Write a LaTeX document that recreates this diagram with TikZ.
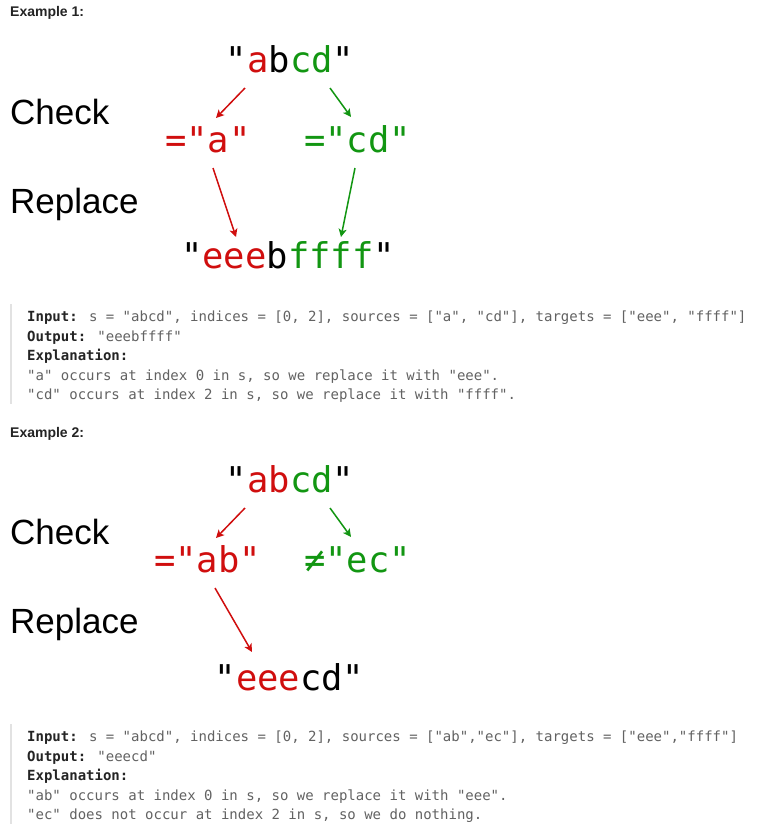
\documentclass[tikz,border=0pt]{standalone}
\usepackage{fontspec}
\setmainfont{Liberation Sans}
\newfontfamily\monofont{DejaVu Sans Mono}
\usepackage{xcolor}
\usetikzlibrary{arrows.meta,positioning}
\definecolor{rosso}{RGB}{208,14,14}
\definecolor{verde}{RGB}{18,150,18}
\definecolor{grigio}{RGB}{98,98,98}
\definecolor{scuro}{RGB}{36,36,36}
\definecolor{barra}{RGB}{226,226,226}
\newcommand{\R}[1]{\textcolor{rosso}{#1}}
\newcommand{\V}[1]{\textcolor{verde}{#1}}
\newcommand{\K}[1]{\textcolor{scuro}{\bfseries #1}}

\begin{document}
\begin{tikzpicture}[x=1pt, y=-1pt,
    titolo/.style={anchor=base west, inner sep=0pt, text=scuro,
      font=\fontsize{14}{16}\selectfont\bfseries},
    fase/.style={anchor=base west, inner sep=0pt, font=\fontsize{35}{40}\selectfont},
    stringa/.style={anchor=base, inner sep=0pt, font=\monofont\fontsize{35.5}{40}\selectfont},
    codice/.style={anchor=base west, inner sep=0pt, text=grigio,
      font=\monofont\fontsize{14}{16}\selectfont},
    barra codice/.style={draw=barra, line width=2pt},
    frecciaR/.style={draw=rosso, line width=1.5pt, -{Stealth[length=8pt,width=8pt,inset=2pt]}},
    frecciaV/.style={draw=verde, line width=1.5pt, -{Stealth[length=8pt,width=8pt,inset=2pt]}}]
    % Sfondo e dimensioni della pagina
    \fill[white] (0,0) rectangle (767,836);
    \useasboundingbox (0,0) rectangle (767,836);

    % ---- Esempio 1 ----
    \node[titolo] (titolo1) at (10,16) {Example 1:};
    \node[fase] (check1) at (10,124) {Check};
    \node[fase] (replace1) at (10,213) {Replace};
    \node[stringa] (src1) at (290,72) {"\R{a}b\V{cd}"};
    \node[stringa, text=rosso] (eqA1) at (208,152) {="a"};
    \node[stringa, text=verde] (eqCD1) at (357.5,152) {="cd"};
    \node[stringa] (res1) at (288,268) {"\R{eee}b\V{ffff}"};
    % frecce di controllo e di sostituzione
    \draw[frecciaR] ([shift={(-45,16)}]src1.base) -- ([shift={(8,-34)}]eqA1.base);
    \draw[frecciaV] ([shift={(40,16)}]src1.base) -- ([shift={(-6.5,-35)}]eqCD1.base);
    \draw[frecciaR] ([shift={(5,16)}]eqA1.base) -- ([shift={(-52,-31)}]res1.base);
    \draw[frecciaV] ([shift={(-2.5,16)}]eqCD1.base) -- ([shift={(53,-31)}]res1.base);
    % blocco di codice
    \draw[barra codice] (11,304) -- (11,404);
    \node[codice] (in1) at (27,321) {\K{Input:} s = "abcd", indices = [0, 2], sources = ["a", "cd"], targets = ["eee", "ffff"]};
    \node[codice] (out1) at (27,341) {\K{Output:} "eeebffff"};
    \node[codice] (expl1) at (27,360.5) {\K{Explanation:}};
    \node[codice] (rigaA1) at (27,380) {"a" occurs at index 0 in s, so we replace it with "eee".};
    \node[codice] (rigaB1) at (27,399.5) {"cd" occurs at index 2 in s, so we replace it with "ffff".};

    % ---- Esempio 2 ----
    \node[titolo] (titolo2) at (10,437) {Example 2:};
    \node[fase] (check2) at (10,544) {Check};
    \node[fase] (replace2) at (10,633) {Replace};
    \node[stringa] (src2) at (290,492) {"\R{ab}\V{cd}"};
    \node[stringa, text=rosso] (eqAB2) at (207.5,572) {="ab"};
    \node[stringa, text=verde] (neqEC2) at (357.5,572) {≠"ec"};
    \node[stringa] (res2) at (289.5,690) {"\R{eee}cd"};
    % frecce di controllo e di sostituzione
    \draw[frecciaR] ([shift={(-45,16)}]src2.base) -- ([shift={(8.5,-34)}]eqAB2.base);
    \draw[frecciaV] ([shift={(40,16)}]src2.base) -- ([shift={(-6.5,-35)}]neqEC2.base);
    \draw[frecciaR] ([shift={(7.5,16)}]eqAB2.base) -- ([shift={(-37.5,-38)}]res2.base);
    % blocco di codice
    \draw[barra codice] (11,724) -- (11,824);
    \node[codice] (in2) at (27,741) {\K{Input:} s = "abcd", indices = [0, 2], sources = ["ab","ec"], targets = ["eee","ffff"]};
    \node[codice] (out2) at (27,761) {\K{Output:} "eeecd"};
    \node[codice] (expl2) at (27,780.5) {\K{Explanation:}};
    \node[codice] (rigaA2) at (27,800) {"ab" occurs at index 0 in s, so we replace it with "eee".};
    \node[codice] (rigaB2) at (27,819.5) {"ec" does not occur at index 2 in s, so we do nothing.};
\end{tikzpicture}
\end{document}
